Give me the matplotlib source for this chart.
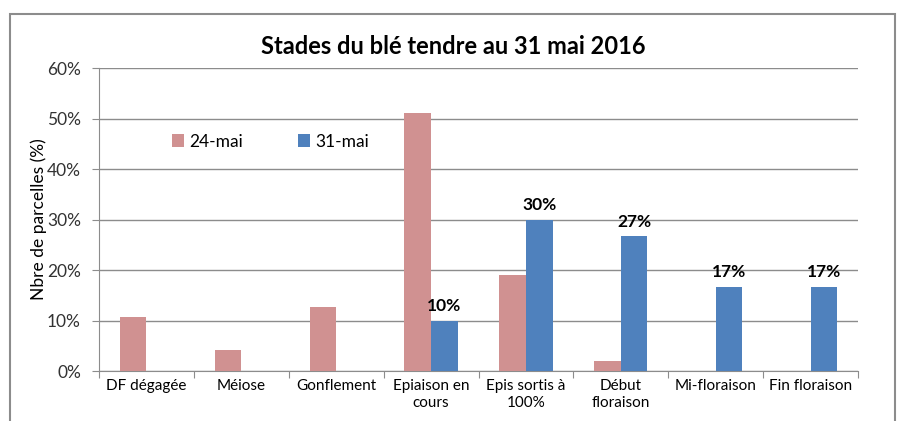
import numpy as np
import matplotlib
matplotlib.use('Agg')
from matplotlib import pyplot as plt
from matplotlib.patches import Rectangle
from matplotlib.ticker import FuncFormatter

categories = ['DF dégagée', 'Méiose', 'Gonflement', 'Epiaison en\ncours', 'Epis sortis à\n100%',
              'Début\nfloraison', 'Mi-floraison', 'Fin floraison']
mai_24 = [10.6, 4.2, 12.7, 51.0, 19.0, 2.0, 0, 0]
mai_31 = [0, 0, 0, 10.0, 30.0, 26.7, 16.7, 16.7]
labels_31 = ['', '', '', '10%', '30%', '27%', '17%', '17%']

plt.rcParams['font.family'] = ['Lato', 'DejaVu Sans']

fig = plt.figure(figsize=(8.97, 4.21), dpi=100)
# cadre gris du graphique
fig.patches.append(Rectangle((10 / 897, -0.1), 885 / 897, 1.1 - 14 / 421, transform=fig.transFigure,
                             fill=False, edgecolor='#8c8c8c', linewidth=1.5))
ax = fig.add_axes([99 / 897, 1 - 371 / 421, 759 / 897, 303 / 421])

x = np.arange(len(categories))
w = 0.28
ax.bar(x - w / 2, mai_24, width=w, color='#D09191', label='24-mai', zorder=3)
ax.bar(x + w / 2, mai_31, width=w, color='#4F81BD', label='31-mai', zorder=3)

for i, lab in enumerate(labels_31):
    if lab:
        ax.text(x[i] + w / 2, mai_31[i] + 1.3, lab, ha='center', va='bottom', fontsize=12.5, fontweight='bold')

ax.set_xlim(-0.5, len(categories) - 0.5)
ax.set_ylim(0, 60)
ax.set_yticks(range(0, 61, 10))
ax.yaxis.set_major_formatter(FuncFormatter(lambda v, p: f'{v:.0f}%'))
ax.set_xticks(np.arange(-0.5, len(categories), 1), minor=False)
ax.set_xticklabels([])
ax.set_xticks(x, minor=True)
ax.set_xticklabels(categories, minor=True, fontsize=11)
ax.tick_params(axis='x', which='minor', length=0, pad=6)
ax.tick_params(axis='x', which='major', length=5, color='#8c8c8c')
ax.tick_params(axis='y', length=5, color='#8c8c8c', labelsize=12.5, labelcolor='#333333', pad=8)

ax.grid(axis='y', color='#8c8c8c', linewidth=1, zorder=0)
for s in ['top', 'right']:
    ax.spines[s].set_visible(False)
ax.spines['left'].set_color('#8c8c8c')
ax.spines['bottom'].set_color('#8c8c8c')

ax.set_ylabel('Nbre de parcelles (%)', fontsize=12.5, labelpad=0)
fig.text(453 / 897, 1 - 46 / 421, 'Stades du blé tendre au 31 mai 2016', ha='center', va='center',
         fontsize=17, fontweight='bold')

ax.legend(loc='upper left', bbox_to_anchor=(0.075, 0.835), ncol=2, frameon=False, fontsize=12.5,
          handlelength=0.7, handleheight=0.7, columnspacing=3.2, handletextpad=0.3)

fig.savefig('out.png', dpi=100)
